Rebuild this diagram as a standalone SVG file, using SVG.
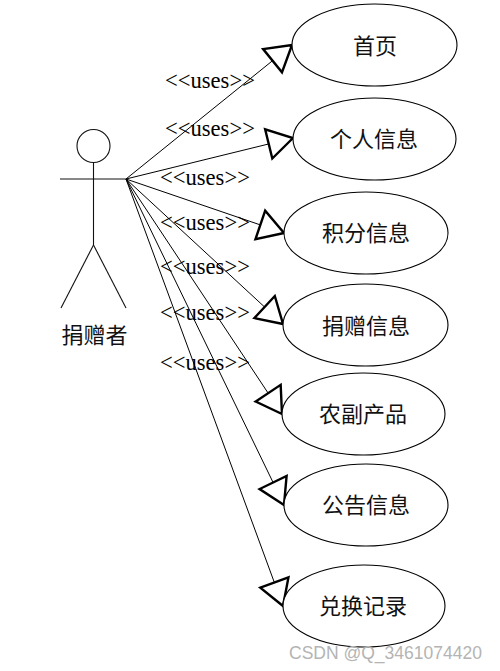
<svg xmlns="http://www.w3.org/2000/svg" width="500" height="671" viewBox="0 0 500 671">
<style>
.bg{fill:#ffffff}
.uc{fill:#ffffff;stroke:#000;stroke-width:1.1}
.ut{font-family:"Noto Sans CJK SC","Noto Sans",sans-serif;font-size:22px;fill:#111;text-anchor:middle}
.ln{stroke:#000;stroke-width:1;fill:none}
.ah{fill:#ffffff;stroke:#000;stroke-width:2.4;stroke-linejoin:miter}
.lb{font-family:"Liberation Serif","Times New Roman",serif;font-size:22.6px;fill:#000}
.act{stroke:#111;stroke-width:1.1;fill:none}
.wm{font-family:"Liberation Sans",Arial,sans-serif;font-size:17.5px;fill:#b4b4b4}
</style>
<rect class="bg" x="0" y="0" width="500" height="671"/>
<g id="actor">
<circle class="act" cx="93.5" cy="146" r="16.5"/>
<line class="act" x1="93.5" y1="162.5" x2="93.5" y2="245"/>
<line class="act" x1="60" y1="179" x2="127" y2="179" stroke-width="1.5"/>
<line class="act" x1="93.5" y1="245" x2="61" y2="308"/>
<line class="act" x1="93.5" y1="245" x2="126" y2="308"/>
<text class="ut" x="94.5" y="343" font-size="21px">捐赠者</text>
</g>
<g id="connectors">
<line class="ln" x1="126" y1="179" x2="272.55" y2="60.70"/>
<polygon class="ah" points="292,45 281.97,72.37 263.13,49.03"/>
<line class="ln" x1="126" y1="179" x2="268.72" y2="143.96"/>
<polygon class="ah" points="293,138 272.30,158.53 265.14,129.39"/>
<line class="ln" x1="126" y1="179" x2="260.34" y2="224.91"/>
<polygon class="ah" points="284,233 255.49,239.10 265.19,210.72"/>
<line class="ln" x1="126" y1="179" x2="264.63" y2="307.04"/>
<polygon class="ah" points="283,324 254.45,318.06 274.81,296.02"/>
<line class="ln" x1="126" y1="179" x2="268.17" y2="393.17"/>
<polygon class="ah" points="282,414 255.67,401.47 280.67,384.87"/>
<line class="ln" x1="126" y1="179" x2="273.10" y2="482.50"/>
<polygon class="ah" points="284,505 259.60,489.04 286.60,475.96"/>
<line class="ln" x1="126" y1="179" x2="274.37" y2="582.54"/>
<polygon class="ah" points="283,606 260.29,587.72 288.45,577.36"/>
<text class="lb" x="165" y="88">&lt;&lt;uses&gt;&gt;</text>
<text class="lb" x="165" y="136">&lt;&lt;uses&gt;&gt;</text>
<text class="lb" x="160" y="185">&lt;&lt;uses&gt;&gt;</text>
<text class="lb" x="160" y="230">&lt;&lt;uses&gt;&gt;</text>
<text class="lb" x="160" y="274">&lt;&lt;uses&gt;&gt;</text>
<text class="lb" x="160" y="320">&lt;&lt;uses&gt;&gt;</text>
<text class="lb" x="160" y="370">&lt;&lt;uses&gt;&gt;</text>
</g>
<g id="uc1"><ellipse class="uc" cx="374.5" cy="45" rx="82.5" ry="41"/><text class="ut" x="375" y="54">首页</text></g>
<g id="uc2"><ellipse class="uc" cx="374.5" cy="139" rx="81.5" ry="41"/><text class="ut" x="374" y="147">个人信息</text></g>
<g id="uc3"><ellipse class="uc" cx="366" cy="233" rx="82" ry="41"/><text class="ut" x="366" y="241">积分信息</text></g>
<g id="uc4"><ellipse class="uc" cx="365.5" cy="325" rx="82.5" ry="41"/><text class="ut" x="366" y="334">捐赠信息</text></g>
<g id="uc5"><ellipse class="uc" cx="363.5" cy="414" rx="81.5" ry="41"/><text class="ut" x="363" y="422">农副产品</text></g>
<g id="uc6"><ellipse class="uc" cx="366" cy="505" rx="82" ry="41"/><text class="ut" x="366" y="513">公告信息</text></g>
<g id="uc7"><ellipse class="uc" cx="364" cy="606" rx="81" ry="41"/><text class="ut" x="363" y="614">兑换记录</text></g>
<text class="wm" x="289" y="659">CSDN @Q_3461074420</text>
</svg>
